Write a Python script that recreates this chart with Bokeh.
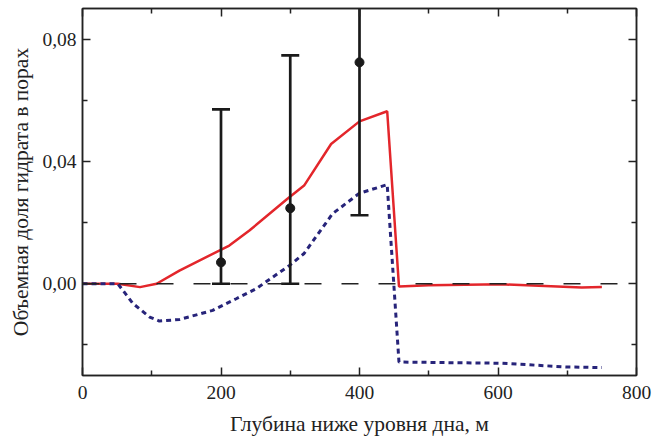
from bokeh.plotting import figure
from bokeh.models import (FixedTicker, CustomJSTickFormatter, LinearAxis, Span,
                          Range1d, ColumnDataSource)
from bokeh.embed import file_html
from bokeh.resources import INLINE

# ---- data ----
red_depth = [0, 51, 83, 107, 140, 212, 241, 296, 320, 359, 400, 440, 457, 500, 606, 721, 750]
red_value = [0.0, 0.0, -0.0011, 0.0, 0.0043, 0.0125, 0.0174, 0.0278, 0.0321, 0.0457, 0.0531,
             0.0564, -0.0009, -0.0005, -0.0002, -0.0012, -0.0011]

blue_depth = [0, 51, 73, 97, 111, 140, 188, 222, 251, 299, 320, 361, 400, 440, 457, 606, 698, 750]
blue_value = [0.0, 0.0, -0.0065, -0.0109, -0.0122, -0.0117, -0.0087, -0.0049, -0.0016, 0.006,
              0.0099, 0.0229, 0.0296, 0.0324, -0.0256, -0.026, -0.0272, -0.0274]

obs_depth = [200, 300, 400]
obs_value = [0.007, 0.0247, 0.0724]
obs_lower = [0.0, 0.0, 0.0224]
obs_upper = [0.057, 0.0747, 0.1224]

x_major = [0, 200, 400, 600, 800]
x_minor = [100, 300, 500, 700]
y_major = [0.0, 0.04, 0.08]
y_minor = [-0.02, 0.02, 0.06]

FONT = "Liberation Serif"

p = figure(width=652, height=438, output_backend="svg", toolbar_location=None,
           x_range=Range1d(0, 800), y_range=Range1d(-0.03, 0.09),
           min_border_left=82, min_border_right=16, min_border_top=8, min_border_bottom=63,
           x_axis_location=None, y_axis_location=None)
p.xgrid.visible = False
p.ygrid.visible = False
p.outline_line_color = "#222222"
p.outline_line_width = 1.5
p.background_fill_color = "white"
p.border_fill_color = "white"

fmt_y = CustomJSTickFormatter(code="return tick.toFixed(2).replace('.', ',');")
fmt_x = CustomJSTickFormatter(code="return tick.toFixed(0);")
fmt_none = CustomJSTickFormatter(code="return '';")

def style_axis(ax):
    ax.axis_line_color = "#222222"
    ax.axis_line_width = 1.5
    ax.major_tick_line_color = "#222222"
    ax.minor_tick_line_color = "#222222"
    ax.major_tick_line_width = 1.5
    ax.minor_tick_line_width = 1.5
    ax.major_tick_in = 8
    ax.major_tick_out = 0
    ax.minor_tick_in = 5
    ax.minor_tick_out = 0
    ax.major_label_text_font = FONT
    ax.major_label_text_font_size = "19.5px"
    ax.major_label_text_color = "#222222"
    ax.axis_label_text_font = FONT
    ax.axis_label_text_font_size = "21.5px"
    ax.axis_label_text_font_style = "normal"
    ax.axis_label_text_color = "#222222"

xb = LinearAxis(ticker=FixedTicker(ticks=x_major, minor_ticks=x_minor), formatter=fmt_x,
                axis_label="Глубина ниже уровня дна, м")
style_axis(xb)
xb.major_label_standoff = 10
xb.axis_label_standoff = 10
p.add_layout(xb, "below")

yl = LinearAxis(ticker=FixedTicker(ticks=y_major, minor_ticks=y_minor), formatter=fmt_y,
                axis_label="Объемная доля гидрата в порах")
style_axis(yl)
yl.major_label_standoff = 6
yl.axis_label_standoff = 6
p.add_layout(yl, "left")

xt = LinearAxis(ticker=FixedTicker(ticks=x_major, minor_ticks=x_minor), formatter=fmt_none)
style_axis(xt)
xt.major_label_standoff = 0
p.add_layout(xt, "above")

yr = LinearAxis(ticker=FixedTicker(ticks=y_major, minor_ticks=y_minor), formatter=fmt_none)
style_axis(yr)
yr.major_label_standoff = 0
p.add_layout(yr, "right")

zero = Span(location=0, dimension="width", line_color="#222222", line_width=1.6,
            line_dash="17 20")
p.add_layout(zero)

p.line(red_depth, red_value, line_color="#e3262b", line_width=2.5)
p.line(blue_depth, blue_value, line_color="#27247a", line_width=3, line_dash="5 4")

src = ColumnDataSource(dict(x=obs_depth, y=obs_value, lo=obs_lower, hi=obs_upper))
p.segment(x0="x", y0="lo", x1="x", y1="hi", source=src, line_color="#1a1a1a", line_width=2.7)
p.scatter(x="x", y="lo", source=src, marker="dash", size=18, line_color="#1a1a1a", line_width=2.7)
p.scatter(x="x", y="hi", source=src, marker="dash", size=18, line_color="#1a1a1a", line_width=2.7)
p.scatter(x="x", y="y", source=src, marker="circle", size=9, fill_color="#1a1a1a",
          line_color="#1a1a1a")

open("out.html", "w").write(file_html(p, INLINE))
